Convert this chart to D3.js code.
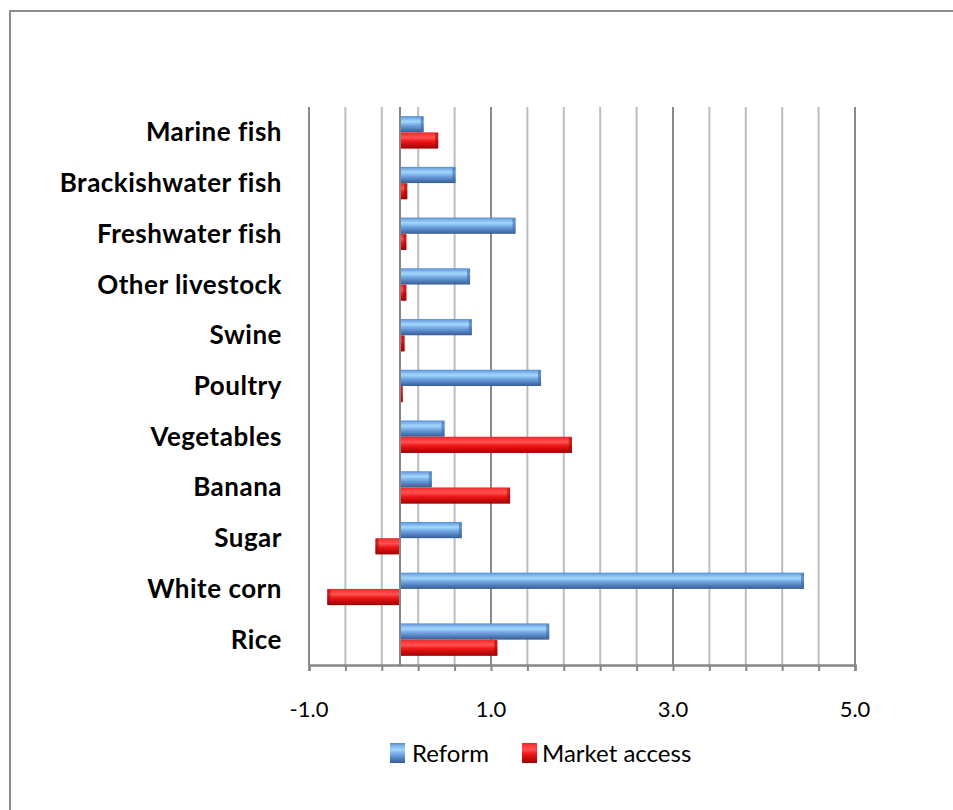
<!DOCTYPE html>
<html><head><meta charset="utf-8">
<script src="https://cdn.jsdelivr.net/npm/d3@7"></script>
<style>body{margin:0;background:#fff}svg{display:block}</style>
</head><body>
<script>
const categories = ["Marine fish","Brackishwater fish","Freshwater fish","Other livestock","Swine","Poultry","Vegetables","Banana","Sugar","White corn","Rice"];
const seriesNames = ["Reform","Market access"];
const reform = [0.26,0.61,1.27,0.77,0.79,1.55,0.49,0.35,0.68,4.44,1.64];
const marketAccess = [0.42,0.08,0.07,0.07,0.05,0.03,1.89,1.21,-0.27,-0.80,1.07];
const gridTicks = d3.range(0,16).map(i => +(-1 + i*0.4).toFixed(1));
const labelTicks = [-1.0,1.0,3.0,5.0];

const W = 953, H = 810;
const svg = d3.select("body").append("svg").attr("width",W).attr("height",H);
const defs = svg.append("defs");
function grad(id, stops){
  const g = defs.append("linearGradient").attr("id",id).attr("x1",0).attr("y1",0).attr("x2",0).attr("y2",1);
  stops.forEach(s=>g.append("stop").attr("offset",s[0]).attr("stop-color",s[1]));
}
grad("gBlue",[[0,"#5589d0"],[0.12,"#78aee9"],[0.33,"#a2d8fb"],[0.55,"#74a8e4"],[0.8,"#4f7cbc"],[1,"#3a5c90"]]);
grad("gRed",[[0,"#e02a2a"],[0.12,"#ff3535"],[0.33,"#ff5252"],[0.55,"#ee1818"],[0.8,"#c20b0b"],[1,"#9c0606"]]);

// frame
svg.append("rect").attr("x",10).attr("y",11).attr("width",W+20).attr("height",H+20)
  .attr("fill","none").attr("stroke","#8c8c8c").attr("stroke-width",2);

const pLeft = 309, pRight = 855, pTop = 107, pBottom = 665;
const x = d3.scaleLinear().domain([-1,5]).range([pLeft,pRight]);
const y = d3.scaleBand().domain(categories).range([pTop,pBottom]).paddingInner(0.36).paddingOuter(0.18);
const ys = d3.scaleBand().domain(seriesNames).range([0,y.bandwidth()]);

// gridlines
svg.append("g").selectAll("line").data(gridTicks).join("line")
  .attr("x1",d=>x(d)).attr("x2",d=>x(d)).attr("y1",pTop).attr("y2",pBottom)
  .attr("stroke",d=>labelTicks.includes(d)?"#8a8a8a":"#bdbdbd").attr("stroke-width",2);

// bars
const data = [];
categories.forEach((c,i)=>{
  data.push({c, s:"Reform", v:reform[i]});
  data.push({c, s:"Market access", v:marketAccess[i]});
});
const bars = svg.append("g").selectAll("g").data(data).join("g");
bars.append("rect")
  .attr("x",d=>x(Math.min(0,d.v))).attr("width",d=>Math.abs(x(d.v)-x(0)))
  .attr("y",d=>y(d.c)+ys(d.s)).attr("height",ys.bandwidth())
  .attr("fill",d=>d.s==="Reform"?"url(#gBlue)":"url(#gRed)");
// bevel end caps
bars.append("rect")
  .attr("x",d=>d.v>=0? x(d.v)-Math.min(3,Math.abs(x(d.v)-x(0))) : x(d.v))
  .attr("width",d=>Math.min(3,Math.abs(x(d.v)-x(0))))
  .attr("y",d=>y(d.c)+ys(d.s)+1).attr("height",ys.bandwidth()-2)
  .attr("fill",d=>d.s==="Reform"?"#3f6aa6":"#a00808").attr("opacity",0.6);

// zero axis
svg.append("line").attr("x1",x(0)).attr("x2",x(0)).attr("y1",pTop).attr("y2",pBottom)
  .attr("stroke","#868686").attr("stroke-width",2);

// bottom axis
const xAxis = d3.axisBottom(x).tickValues(gridTicks).tickSize(6).tickFormat("");
const ax = svg.append("g").attr("transform",`translate(0,${pBottom})`).call(xAxis);
ax.select(".domain").attr("stroke","#868686").attr("stroke-width",2.5);
ax.selectAll(".tick line").attr("stroke","#868686").attr("stroke-width",2);
svg.append("g").selectAll("text").data(labelTicks).join("text")
  .attr("x",d=>x(d)).attr("y",717).attr("text-anchor","middle")
  .attr("font-family","Lato, 'Open Sans', sans-serif").attr("font-size",22).attr("fill","#000")
  .text(d=>d.toFixed(1));

// category labels
svg.append("g").selectAll("text").data(categories).join("text")
  .attr("x",282).attr("y",d=>y(d)+y.bandwidth()/2+9).attr("text-anchor","end")
  .attr("font-family","Lato, sans-serif").attr("font-weight","bold").attr("font-size",26)
  .attr("fill","#000").attr("letter-spacing",0.5).text(d=>d);

// legend
const legend = [{n:"Reform",x:390,f:"url(#gBlue)",tx:412},{n:"Market access",x:522,f:"url(#gRed)",tx:542}];
const lg = svg.append("g").selectAll("g").data(legend).join("g");
lg.append("rect").attr("x",d=>d.x).attr("y",743).attr("width",15).attr("height",20).attr("fill",d=>d.f);
lg.append("text").attr("x",d=>d.tx).attr("y",762).attr("font-family","Lato, sans-serif")
  .attr("font-size",24).attr("fill","#000").text(d=>d.n);
</script>
</body></html>
